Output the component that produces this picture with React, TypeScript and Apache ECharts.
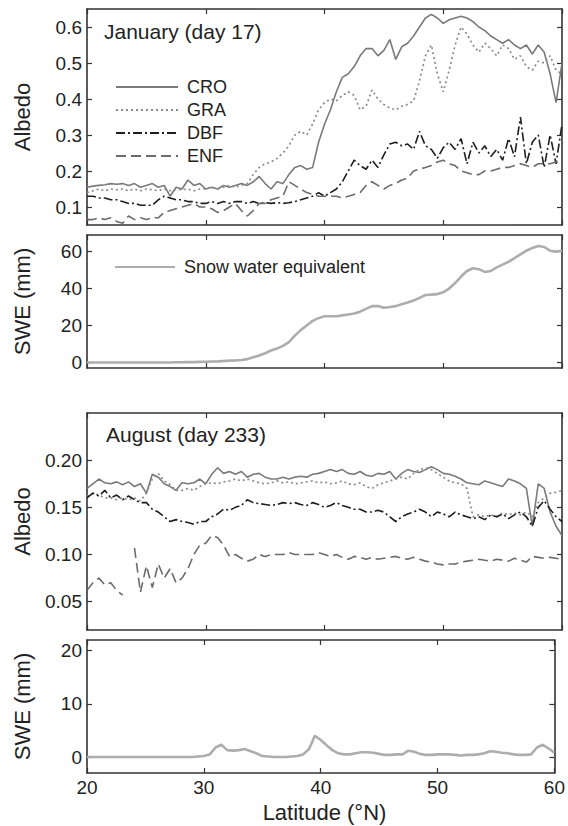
import React, { useEffect, useRef } from "react";
import * as echarts from "echarts";

// Latitude grid (°N)
const LAT = [
  20, 20.5, 21, 21.5, 22, 22.5, 23, 23.5, 24, 24.5,
  25, 25.5, 26, 26.5, 27, 27.5, 28, 28.5, 29, 29.5,
  30, 30.5, 31, 31.5, 32, 32.5, 33, 33.5, 34, 34.5,
  35, 35.5, 36, 36.5, 37, 37.5, 38, 38.5, 39, 39.5,
  40, 40.5, 41, 41.5, 42, 42.5, 43, 43.5, 44, 44.5,
  45, 45.5, 46, 46.5, 47, 47.5, 48, 48.5, 49, 49.5,
  50, 50.5, 51, 51.5, 52, 52.5, 53, 53.5, 54, 54.5,
  55, 55.5, 56, 56.5, 57, 57.5, 58, 58.5, 59, 59.5,
  60,
];

// January (day 17) albedo
const JAN_CRO = [
  0.155, 0.158, 0.16, 0.162, 0.165, 0.163, 0.165, 0.16, 0.165, 0.155,
  0.16, 0.165, 0.155, 0.16, 0.13, 0.155, 0.15, 0.175, 0.16, 0.165,
  0.15, 0.155, 0.15, 0.16, 0.155, 0.16, 0.165, 0.16, 0.17, 0.185,
  0.165, 0.15, 0.17, 0.165, 0.19, 0.21, 0.215, 0.205, 0.21, 0.28,
  0.33, 0.37, 0.42, 0.46, 0.47, 0.49, 0.52, 0.54, 0.54, 0.52,
  0.535, 0.565, 0.51, 0.545, 0.555, 0.575, 0.6, 0.625, 0.635, 0.625,
  0.61, 0.62, 0.625, 0.63, 0.625, 0.615, 0.6, 0.59, 0.575, 0.565,
  0.555, 0.565, 0.55, 0.54, 0.55, 0.525, 0.55, 0.53, 0.47, 0.39,
  0.5,
];
const JAN_GRA = [
  0.14, 0.145, 0.15, 0.145, 0.15, 0.148, 0.15, 0.145, 0.15, 0.145,
  0.15, 0.148, 0.145, 0.15, 0.145, 0.15, 0.148, 0.15, 0.145, 0.15,
  0.15, 0.155, 0.15, 0.155, 0.16, 0.155, 0.16, 0.165, 0.19, 0.21,
  0.22, 0.225, 0.235, 0.25, 0.27, 0.3, 0.31, 0.3, 0.33, 0.37,
  0.39, 0.4, 0.395, 0.41, 0.42, 0.41, 0.37, 0.38, 0.425, 0.4,
  0.385, 0.375, 0.37, 0.38, 0.385, 0.395, 0.45, 0.52, 0.55, 0.47,
  0.42, 0.48, 0.55, 0.6, 0.58, 0.55, 0.53, 0.555, 0.54, 0.52,
  0.55, 0.54, 0.51, 0.52, 0.49, 0.48, 0.505, 0.5, 0.52, 0.48,
  0.47,
];
const JAN_DBF = [
  0.13, 0.13, 0.125, 0.125, 0.12, 0.12, 0.115, 0.11, 0.11, 0.105,
  0.105, 0.105, 0.12, 0.13, 0.125, 0.12, 0.12, 0.115, 0.115, 0.11,
  0.11, 0.115, 0.11, 0.115, 0.11, 0.115, 0.115, 0.11, 0.115, 0.11,
  0.112, 0.11, 0.112, 0.11, 0.112, 0.115, 0.12, 0.125, 0.13, 0.14,
  0.13, 0.14, 0.15, 0.17, 0.2, 0.23, 0.215, 0.205, 0.23, 0.21,
  0.245, 0.275, 0.28, 0.27, 0.275, 0.26, 0.31, 0.27, 0.26, 0.235,
  0.265, 0.28, 0.26, 0.29, 0.22, 0.28, 0.25, 0.27, 0.24, 0.26,
  0.23, 0.29, 0.24, 0.35, 0.22, 0.28, 0.3, 0.21, 0.3, 0.22,
  0.33,
];
const JAN_ENF = [
  0.065, 0.065, 0.07, 0.065, 0.07, 0.06, 0.055, 0.075, 0.065, 0.07,
  0.065, 0.07, 0.07, 0.085, 0.09, 0.095, 0.1, 0.105, 0.11, 0.1,
  0.1, 0.095, 0.085, 0.09, 0.1, 0.11, 0.09, 0.075, 0.09, 0.11,
  0.11, 0.12, 0.125, 0.13, 0.17, 0.16, 0.15, 0.14, 0.135, 0.13,
  0.13, 0.13, 0.13, 0.125, 0.13, 0.135, 0.14, 0.16, 0.17, 0.16,
  0.15, 0.16, 0.165, 0.175, 0.18, 0.2, 0.205, 0.21, 0.215, 0.225,
  0.23, 0.22, 0.215, 0.2, 0.195, 0.19, 0.19, 0.2, 0.2, 0.205,
  0.21, 0.21, 0.215, 0.22, 0.215, 0.21, 0.22, 0.22, 0.22, 0.225,
  0.225,
];
// January snow water equivalent (mm)
const JAN_SWE = [
  0, 0, 0, 0, 0, 0, 0, 0, 0, 0,
  0, 0, 0, 0, 0, 0.1, 0.1, 0.2, 0.2, 0.3,
  0.4, 0.5, 0.6, 0.8, 1.0, 1.1, 1.3, 1.8, 2.8, 3.8,
  5, 6.5, 7.5, 9, 11, 14.5, 17.5, 20, 22.5, 24,
  25, 25, 25, 25.5, 26, 26.5, 27.5, 29, 30.5, 30.5,
  29.6, 30, 30.5, 31.5, 32.5, 33.5, 35, 36.5, 36.7, 37,
  38, 40, 43, 46.5, 49.5, 51, 50.5, 49, 49.5, 51.5,
  53, 54.5, 56.5, 58.5, 60.5, 62, 63, 62.5, 60.5, 60,
  60.5,
];

// August (day 233) albedo
const AUG_CRO = [
  0.17, 0.175, 0.18, 0.176, 0.175, 0.177, 0.174, 0.177, 0.172, 0.175,
  0.165, 0.185, 0.182, 0.175, 0.172, 0.168, 0.176, 0.175, 0.176, 0.18,
  0.175, 0.185, 0.192, 0.186, 0.188, 0.185, 0.188, 0.182, 0.185, 0.186,
  0.182, 0.18, 0.18, 0.182, 0.18, 0.182, 0.183, 0.182, 0.185, 0.186,
  0.188, 0.19, 0.188, 0.19, 0.186, 0.185, 0.188, 0.184, 0.183, 0.186,
  0.185, 0.188, 0.18, 0.186, 0.19, 0.188, 0.187, 0.19, 0.193, 0.19,
  0.186, 0.185, 0.183, 0.18, 0.176, 0.175, 0.174, 0.178, 0.176, 0.174,
  0.172, 0.18, 0.178, 0.175, 0.17, 0.13, 0.175, 0.17, 0.145, 0.13,
  0.12,
];
const AUG_GRA = [
  0.162, 0.165, 0.163, 0.16, 0.16, 0.158, 0.16, 0.158, 0.16, 0.157,
  0.165, 0.18, 0.186, 0.178, 0.174, 0.168, 0.168, 0.17, 0.168, 0.172,
  0.175, 0.176, 0.175, 0.177, 0.178, 0.18, 0.178, 0.18, 0.178, 0.176,
  0.175, 0.176, 0.178, 0.176, 0.177, 0.175, 0.176, 0.177, 0.178, 0.176,
  0.177, 0.175, 0.176, 0.178, 0.175, 0.174, 0.176, 0.172, 0.17, 0.174,
  0.176, 0.178, 0.18, 0.182, 0.18, 0.186, 0.19, 0.192, 0.19, 0.186,
  0.182, 0.178, 0.176, 0.175, 0.17, 0.14, 0.142, 0.14, 0.142, 0.14,
  0.144, 0.142, 0.144, 0.142, 0.145, 0.14, 0.155, 0.16, 0.165, 0.166,
  0.168,
];
const AUG_DBF = [
  0.16, 0.165, 0.162, 0.168, 0.16, 0.163, 0.158, 0.162, 0.158, 0.155,
  0.155, 0.148, 0.145, 0.14, 0.135, 0.137, 0.135, 0.134, 0.132, 0.135,
  0.135, 0.14, 0.143, 0.148, 0.147, 0.15, 0.152, 0.158, 0.155, 0.154,
  0.153, 0.152, 0.153, 0.155, 0.154, 0.155, 0.153, 0.152, 0.155, 0.153,
  0.15, 0.152, 0.155, 0.152, 0.15, 0.148, 0.148, 0.145, 0.145, 0.147,
  0.145, 0.14, 0.135, 0.14, 0.143, 0.145, 0.148, 0.145, 0.14, 0.145,
  0.143, 0.14, 0.145, 0.142, 0.14, 0.138, 0.14, 0.137, 0.142, 0.14,
  0.143, 0.138, 0.142, 0.145, 0.14, 0.13, 0.15, 0.157, 0.148, 0.14,
  0.135,
];
const AUG_ENF = [
  0.062, 0.07, 0.075, 0.068, 0.07, 0.062, 0.057, null, 0.107, 0.06,
  0.088, 0.065, 0.09, 0.075, 0.085, 0.07, 0.075, 0.085, 0.1, 0.11,
  0.112, 0.12, 0.118, 0.11, 0.098, 0.1, 0.096, 0.093, 0.095, 0.1,
  0.098, 0.1, 0.1, 0.1, 0.102, 0.1, 0.1, 0.1, 0.1, 0.102,
  0.1, 0.098, 0.1, 0.097, 0.095, 0.098, 0.097, 0.095, 0.097, 0.095,
  0.096, 0.097, 0.098, 0.096, 0.095, 0.097, 0.095, 0.093, 0.092, 0.09,
  0.089, 0.09, 0.09, 0.092, 0.093, 0.094, 0.095, 0.094, 0.093, 0.095,
  0.094, 0.093, 0.096, 0.094, 0.092, 0.098, 0.097, 0.096, 0.097, 0.096,
  0.095,
];
// August snow water equivalent (mm)
const AUG_SWE = [
  0, 0, 0, 0, 0, 0, 0, 0, 0, 0,
  0, 0, 0, 0, 0, 0, 0, 0, 0, 0.1,
  0.2, 0.5, 1.8, 2.3, 1.3, 1.2, 1.3, 1.5, 1.1, 0.7,
  0.2, 0.1, 0, 0, 0, 0.1, 0.2, 0.5, 1.5, 4.0,
  3.2, 2.2, 1.3, 0.7, 0.5, 0.5, 0.7, 0.9, 0.9, 0.8,
  0.6, 0.4, 0.4, 0.5, 0.5, 1.2, 1.0, 0.6, 0.4, 0.4,
  0.5, 0.5, 0.5, 0.4, 0.3, 0.4, 0.4, 0.5, 0.7, 1.1,
  1.0, 0.8, 0.7, 0.5, 0.4, 0.4, 0.5, 1.8, 2.3, 1.6,
  0.8,
];

// Axis tick labels
const X_TICKS = [20, 30, 40, 50, 60];
const Y_TICKS_JAN_ALB = [0.1, 0.2, 0.3, 0.4, 0.5, 0.6];
const Y_TICKS_JAN_SWE = [0, 20, 40, 60];
const Y_TICKS_AUG_ALB = [0.05, 0.1, 0.15, 0.2];
const Y_TICKS_AUG_SWE = [0, 10, 20];
const ALBEDO_TYPES = ["CRO", "GRA", "DBF", "ENF"];
const SWE_NAME = "Snow water equivalent";

const FONT = '"Liberation Sans", Arial, Helvetica, sans-serif';
const AXIS_COLOR = "#333333";
const TEXT_COLOR = "#222222";

export default function App() {
  const ref = useRef<HTMLDivElement | null>(null);

  useEffect(() => {
    if (!ref.current) return;
    const chart = echarts.init(ref.current, undefined, { renderer: "svg" });

    const grids = [
      { left: 87, top: 9, width: 475, height: 216 },
      { left: 87, top: 235, width: 475, height: 133 },
      { left: 87, top: 413, width: 475, height: 217 },
      { left: 87, top: 640, width: 475, height: 133 },
    ];
    const yRanges = [
      [0.05, 0.65],
      [-3, 69],
      [0.02, 0.25],
      [-3, 22],
    ];
    const yTicks = [Y_TICKS_JAN_ALB, Y_TICKS_JAN_SWE, Y_TICKS_AUG_ALB, Y_TICKS_AUG_SWE];
    const yFmt = [
      (v: number) => v.toFixed(1),
      (v: number) => String(Math.round(v)),
      (v: number) => v.toFixed(2),
      (v: number) => String(Math.round(v)),
    ];

    const axisLine = { show: true, onZero: false, lineStyle: { color: AXIS_COLOR, width: 1.6 } };
    const axisTick = (custom?: number[]) => ({
      show: true,
      inside: true,
      length: 5,
      lineStyle: { color: AXIS_COLOR, width: 1.2 },
      ...(custom ? { customValues: custom } : {}),
    });

    const xAxis: any[] = [];
    const yAxis: any[] = [];
    grids.forEach((_, i) => {
      xAxis.push({
        type: "value",
        gridIndex: i,
        min: X_TICKS[0],
        max: X_TICKS[X_TICKS.length - 1],
        interval: 10,
        position: "bottom",
        axisLine,
        axisTick: axisTick(),
        axisLabel: {
          show: i === 3,
          fontSize: 19,
          color: TEXT_COLOR,
          fontFamily: FONT,
          margin: 5,
        },
        splitLine: { show: false },
      });
    });
    grids.forEach((_, i) => {
      xAxis.push({
        type: "value",
        gridIndex: i,
        min: X_TICKS[0],
        max: X_TICKS[X_TICKS.length - 1],
        interval: 10,
        position: "top",
        axisLine,
        axisTick: axisTick(),
        axisLabel: { show: false },
        splitLine: { show: false },
      });
    });
    grids.forEach((_, i) => {
      yAxis.push({
        type: "value",
        gridIndex: i,
        min: yRanges[i][0],
        max: yRanges[i][1],
        position: "left",
        axisLine,
        axisTick: axisTick(yTicks[i]),
        axisLabel: {
          customValues: yTicks[i],
          formatter: yFmt[i],
          fontSize: 19,
          color: TEXT_COLOR,
          fontFamily: FONT,
          margin: 5,
        },
        splitLine: { show: false },
      });
    });
    grids.forEach((_, i) => {
      yAxis.push({
        type: "value",
        gridIndex: i,
        min: yRanges[i][0],
        max: yRanges[i][1],
        position: "right",
        axisLine,
        axisTick: axisTick(yTicks[i]),
        axisLabel: { show: false, customValues: yTicks[i] },
        splitLine: { show: false },
      });
    });

    const zip = (ys: (number | null)[]) => LAT.map((x, k) => [x, ys[k] === null ? null : ys[k]]);

    const albedoStyles: Record<string, any> = {
      CRO: { color: "#7a7a7a", width: 1.6, type: "solid" },
      GRA: { color: "#8c8c8c", width: 1.7, type: [2, 3] },
      DBF: { color: "#1e1e1e", width: 1.6, type: [9, 3, 2, 3] },
      ENF: { color: "#6c6c6c", width: 1.6, type: [10, 5] },
    };
    const janData: Record<string, number[]> = { CRO: JAN_CRO, GRA: JAN_GRA, DBF: JAN_DBF, ENF: JAN_ENF };
    const augData: Record<string, (number | null)[]> = { CRO: AUG_CRO, GRA: AUG_GRA, DBF: AUG_DBF, ENF: AUG_ENF };

    const series: any[] = [];
    const mkLine = (name: string, idx: number, data: any[], style: any, z: number) => ({
      name,
      type: "line",
      xAxisIndex: idx,
      yAxisIndex: idx,
      data,
      symbol: "none",
      showSymbol: false,
      connectNulls: false,
      lineStyle: style,
      itemStyle: { color: style.color },
      z,
      silent: true,
    });
    ALBEDO_TYPES.forEach((t, k) => {
      series.push(mkLine(t, 0, zip(janData[t]), albedoStyles[t], 2 + k));
    });
    series.push(mkLine(SWE_NAME, 1, zip(JAN_SWE), { color: "#adadad", width: 2.6, type: "solid" }, 2));
    ALBEDO_TYPES.forEach((t, k) => {
      series.push(mkLine(t, 2, zip(augData[t]), albedoStyles[t], 2 + k));
    });
    series.push(mkLine(SWE_NAME, 3, zip(AUG_SWE), { color: "#adadad", width: 2.6, type: "solid" }, 2));

    const legendText = { fontSize: 18, color: TEXT_COLOR, fontFamily: FONT, padding: [0, 0, 0, 4] };
    const titleText = { fontSize: 21, fontWeight: "normal", color: TEXT_COLOR, fontFamily: FONT };

    chart.setOption({
      animation: false,
      backgroundColor: "#ffffff",
      grid: grids,
      xAxis,
      yAxis,
      series,
      legend: [
        {
          data: ALBEDO_TYPES,
          orient: "vertical",
          left: 115,
          top: 78,
          padding: 0,
          itemWidth: 62,
          itemHeight: 12,
          itemGap: 5,
          selectedMode: false,
          itemStyle: { opacity: 0 },
          textStyle: legendText,
        },
        {
          data: [SWE_NAME],
          orient: "vertical",
          left: 114,
          top: 258,
          padding: 0,
          itemWidth: 60,
          itemHeight: 12,
          selectedMode: false,
          itemStyle: { opacity: 0 },
          textStyle: legendText,
        },
      ],
      title: [
        { text: "January (day 17)", left: 104, top: 21, padding: 0, textStyle: titleText },
        { text: "August (day 233)", left: 106, top: 424, padding: 0, textStyle: titleText },
      ],
      graphic: [
        { text: "Albedo", cy: 117 },
        { text: "SWE (mm)", cy: 301.5 },
        { text: "Albedo", cy: 521.5 },
        { text: "SWE (mm)", cy: 706.5 },
      ]
        .map((g) => ({
          type: "text",
          x: 22,
          y: g.cy,
          rotation: Math.PI / 2,
          silent: true,
          style: {
            text: g.text,
            fontSize: 22,
            fontFamily: FONT,
            fill: TEXT_COLOR,
            align: "center",
            verticalAlign: "middle",
          },
        }))
        .concat([
          {
            type: "text",
            x: 324.5,
            y: 812,
            rotation: 0,
            silent: true,
            style: {
              text: "Latitude (°N)",
              fontSize: 22,
              fontFamily: FONT,
              fill: TEXT_COLOR,
              align: "center",
              verticalAlign: "middle",
            },
          },
        ]),
    });

    return () => {
      chart.dispose();
    };
  }, []);

  return (
    <div
      ref={ref}
      style={{ position: "absolute", left: 0, top: 0, width: 568, height: 826, background: "#fff" }}
    />
  );
}
